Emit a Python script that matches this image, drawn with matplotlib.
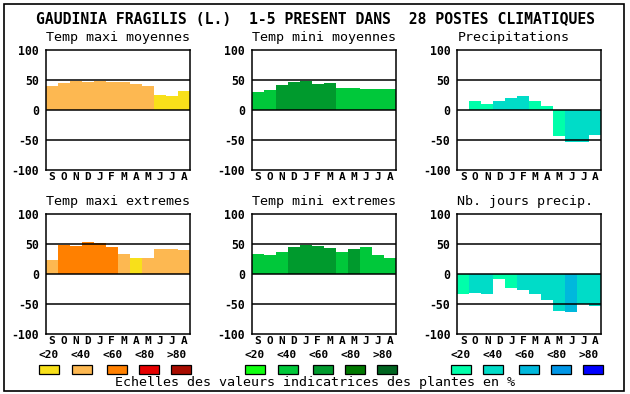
import numpy as np
import matplotlib
matplotlib.use("Agg")
import matplotlib.pyplot as plt
from matplotlib.patches import Rectangle

W, H = 630, 394

title = "GAUDINIA FRAGILIS (L.)  1-5 PRESENT DANS  28 POSTES CLIMATIQUES"
months = ["S", "O", "N", "D", "J", "F", "M", "A", "M", "J", "J", "A"]
classes = ["<20", "<40", "<60", "<80", ">80"]
footer = "Echelles des valeurs indicatrices des plantes en %"

# palettes (one per column)
pal_maxi = ["#F8E01A", "#FDB851", "#FF8000", "#E60000", "#A80C00"]
pal_mini = ["#10FF10", "#00C83A", "#009A2D", "#007800", "#006420"]
pal_prec = ["#00FFAA", "#00DCC8", "#00B8DC", "#0096E6", "#0000FF"]

# values
maxi_moy = [40, 45, 49, 47, 49, 47, 47, 44, 40, 25, 24, 32]
maxi_moy_cl = [1, 1, 1, 1, 1, 1, 1, 1, 1, 0, 0, 0]
mini_moy = [30, 34, 42, 47, 49, 44, 45.5, 37, 37, 35.5, 35.5, 35.5]
mini_moy_cl = [1, 1, 2, 2, 2, 2, 2, 1, 1, 1, 1, 1]
precip = [0, 15.5, 10.5, 15.5, 20.5, 24, 15.5, 7, -43, -54, -54, -41]
precip_cl = [0, 0, 0, 1, 1, 1, 0, 0, 0, 1, 1, 1]
maxi_ext = [24, 49, 47, 54, 52, 45.5, 34, 27, 27, 42, 42, 40.5]
maxi_ext_cl = [1, 2, 2, 2, 2, 2, 1, 0, 1, 1, 1, 1]
mini_ext = [34, 32, 37, 45.5, 49, 47, 44, 37, 42, 45.5, 32, 27]
mini_ext_cl = [1, 1, 1, 2, 2, 2, 2, 1, 2, 1, 1, 1]
nb_jours = [-33, -31, -33, -8, -23, -26, -33, -44, -61, -64, -50, -54]
nb_jours_cl = [0, 1, 1, 0, 0, 1, 1, 1, 1, 2, 1, 1]

panels = [
    ("Temp maxi moyennes", maxi_moy, maxi_moy_cl, pal_maxi),
    ("Temp mini moyennes", mini_moy, mini_moy_cl, pal_mini),
    ("Precipitations", precip, precip_cl, pal_prec),
    ("Temp maxi extremes", maxi_ext, maxi_ext_cl, pal_maxi),
    ("Temp mini extremes", mini_ext, mini_ext_cl, pal_mini),
    ("Nb. jours precip.", nb_jours, nb_jours_cl, pal_prec),
]

mono = "DejaVu Sans Mono"
plt.rcParams["font.family"] = mono


def fx(x):
    return x / W


def fy(y):
    return 1 - y / H


fig = plt.figure(figsize=(W / 100, H / 100), dpi=100)

# outer frame
fig.add_artist(Rectangle((fx(4), fy(391)), fx(620), 387 / H, transform=fig.transFigure,
                         fill=False, edgecolor="black", linewidth=1.2))

fig.text(fx(316), fy(19), title, ha="center", va="center", fontsize=10.6,
         fontweight="bold")

lefts = [45.7, 251.7, 457.3]
tops = [50, 214]
aw, ah = 144, 120

for k, (name, vals, cl, pal) in enumerate(panels):
    row, col = k // 3, k % 3
    l, t = lefts[col], tops[row]
    ax = fig.add_axes([fx(l), fy(t + ah), fx(aw), ah / H])
    x = np.arange(len(vals))
    ax.bar(x, vals, width=1.0, align="edge", color=[pal[c] for c in cl],
           linewidth=0, zorder=1)
    for yl in (50, 0, -50):
        ax.axhline(yl, color="black", linewidth=1.1, zorder=2)
    ax.set_xlim(0, 12)
    ax.set_ylim(-100, 100)
    ax.set_yticks([100, 50, 0, -50, -100])
    ax.set_yticklabels(["100", "50", "0", "-50", "-100"], fontweight="bold", fontsize=8.3)
    ax.set_xticks(x + 0.5)
    ax.set_xticklabels(months, fontweight="bold", fontsize=8)
    ax.tick_params(length=0)
    ax.tick_params(axis="x", pad=1.5)
    ax.tick_params(axis="y", pad=5)
    for s in ax.spines.values():
        s.set_linewidth(1.1)
    fig.text(fx(l), fy(t - 12), name, ha="left", va="center", fontsize=9.6)

# legend: class labels and coloured squares
lab_x = [[49, 81, 113, 145, 177], [255, 287, 319, 351, 383], [461, 493, 525, 557, 589]]
sq_x = [[39.3, 71.7, 107, 139, 171], [245, 277.7, 313, 345, 377], [451, 483, 519, 551, 583]]
for col, pal in enumerate([pal_maxi, pal_mini, pal_prec]):
    for i in range(5):
        fig.text(fx(lab_x[col][i]), fy(355), classes[i], ha="center", va="center",
                 fontsize=8, fontweight="bold")
        fig.add_artist(Rectangle((fx(sq_x[col][i]), fy(373.5)), fx(20), 9 / H,
                                 transform=fig.transFigure, facecolor=pal[i],
                                 edgecolor="black", linewidth=0.9))

fig.text(fx(315), fy(382.5), footer, ha="center", va="center", fontsize=9.6)

plt.savefig("out.png", dpi=100)
plt.close()
